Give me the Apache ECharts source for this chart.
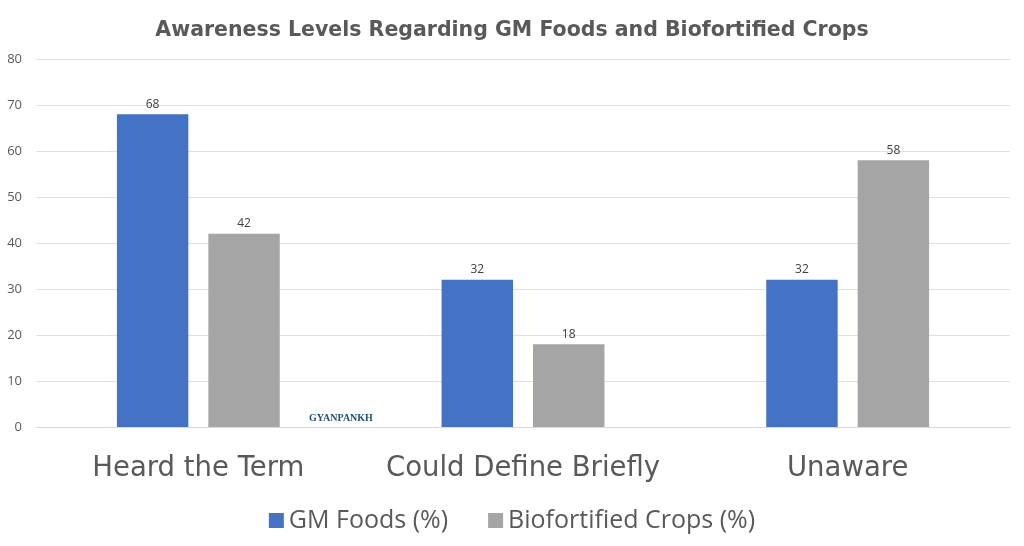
<!DOCTYPE html>
<html>
<head>
<meta charset="utf-8">
<script src="https://cdn.jsdelivr.net/npm/echarts@6/dist/echarts.min.js"></script>
<style>
  html, body { margin: 0; padding: 0; background: #fff; }
  #chart { width: 1024px; height: 546px; }
</style>
</head>
<body>
<div id="chart"></div>
<script type="text/javascript">
var categories = ['Heard the Term', 'Could Define Briefly', 'Unaware'];
var gmFoods = [68, 32, 32];
var biofortified = [42, 18, 58];
var yTicks = { min: 0, max: 80, step: 10 };

var myChart = echarts.init(document.getElementById('chart'));
var option = {
    backgroundColor: '#ffffff',
    animation: false,
    title: {
        text: 'Awareness Levels Regarding GM Foods and Biofortified Crops',
        left: 'center',
        top: 15,
        textStyle: {
            fontFamily: 'DejaVu Sans',
            fontWeight: 'bold',
            fontSize: 20.5,
            color: '#595959'
        }
    },
    legend: {
        bottom: 8,
        left: 'center',
        itemWidth: 15,
        itemHeight: 15,
        itemGap: 40,
        icon: 'rect',
        textStyle: {
            fontFamily: 'Open Sans',
            fontSize: 25,
            color: '#595959'
        },
        data: ['GM Foods (%)', 'Biofortified Crops (%)']
    },
    grid: {
        left: 36,
        right: 14,
        top: 59,
        bottom: 119
    },
    xAxis: {
        type: 'category',
        data: categories,
        axisTick: { show: false },
        axisLine: { lineStyle: { color: '#d9d9d9' } },
        axisLabel: {
            interval: 0,
            hideOverlap: false,
            margin: 28,
            fontFamily: 'DejaVu Sans',
            fontSize: 27.5,
            color: '#595959'
        }
    },
    yAxis: {
        type: 'value',
        min: yTicks.min,
        max: yTicks.max,
        interval: yTicks.step,
        axisLine: { show: false },
        axisTick: { show: false },
        axisLabel: {
            margin: 14,
            fontFamily: 'Open Sans',
            fontSize: 13,
            color: '#595959'
        },
        splitLine: { lineStyle: { color: '#e0e0e0', width: 1 } }
    },
    graphic: [{
        type: 'text',
        left: 309,
        top: 413,
        style: {
            text: 'GYANPANKH',
            font: 'bold 10px "Liberation Serif"',
            fill: '#1f4e79'
        }
    }],
    series: [
        {
            name: 'GM Foods (%)',
            type: 'bar',
            data: gmFoods,
            barWidth: '22%',
            barGap: '28%',
            itemStyle: { color: '#4472c4' },
            label: {
                show: true,
                position: 'top',
                distance: 4,
                fontFamily: 'Open Sans',
                fontSize: 12,
                color: '#404040'
            }
        },
        {
            name: 'Biofortified Crops (%)',
            type: 'bar',
            data: biofortified,
            barWidth: '22%',
            itemStyle: { color: '#a5a5a5' },
            label: {
                show: true,
                position: 'top',
                distance: 4,
                fontFamily: 'Open Sans',
                fontSize: 12,
                color: '#404040'
            }
        }
    ]
};
myChart.setOption(option);
</script>
</body>
</html>
